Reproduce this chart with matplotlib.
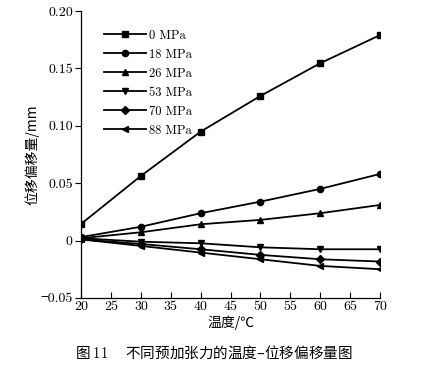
import matplotlib
matplotlib.use('Agg')
import matplotlib.pyplot as plt

plt.rcParams['font.family'] = ['cmr10', 'Noto Sans CJK SC', 'DejaVu Sans']
plt.rcParams['axes.formatter.use_mathtext'] = True
plt.rcParams['axes.unicode_minus'] = False
plt.rcParams['mathtext.fontset'] = 'cm'

# temperatures (C)
temps = [20, 30, 40, 50, 60, 70]

# displacement offset (mm) per pre-tension
labels = ['0 MPa', '18 MPa', '26 MPa', '53 MPa', '70 MPa', '88 MPa']
s0 = [0.0145, 0.0563, 0.0949, 0.126, 0.1545, 0.179]
s18 = [0.003, 0.012, 0.0238, 0.0339, 0.045, 0.058]
s26 = [0.002, 0.0072, 0.0142, 0.018, 0.0238, 0.031]
s53 = [0.002, -0.001, -0.0024, -0.0059, -0.0076, -0.0076]
s70 = [0.001, -0.003, -0.0076, -0.0125, -0.0163, -0.0183]
s88 = [0.001, -0.0047, -0.0105, -0.0163, -0.0221, -0.025]
series = [s0, s18, s26, s53, s70, s88]
markers = ['s', 'o', '^', 'v', 'D', '<']

yticks = [-0.05, 0, 0.05, 0.10, 0.15, 0.20]
ytick_labels = ['\u22120.05', '0', '0.05', '0.10', '0.15', '0.20']
xticks = list(range(20, 75, 5))

fig = plt.figure(figsize=(4.27, 3.66), dpi=100)
ax = fig.add_axes([0.19, 0.186, 0.70, 0.784])

for ys, m, lab in zip(series, markers, labels):
    ax.plot(temps, ys, color='black', linewidth=1.3, marker=m,
            markersize=4.5 if m != 'D' else 3.8, label=lab)

ax.set_xlim(20, 70)
ax.set_ylim(-0.05, 0.20)
ax.set_xticks(xticks)
ax.set_xticklabels([str(t) for t in xticks])
ax.set_yticks(yticks)
ax.set_yticklabels(ytick_labels)

ax.spines['top'].set_visible(False)
ax.spines['right'].set_visible(False)
ax.spines['left'].set_linewidth(0.9)
ax.spines['bottom'].set_linewidth(0.9)
ax.tick_params(axis='x', direction='in', length=4, labelsize=10, pad=2)
ax.tick_params(axis='y', direction='out', length=4, labelsize=10, pad=2)

ax.set_xlabel('温度/℃', fontsize=10, family=['Noto Sans CJK SC', 'DejaVu Sans'], labelpad=2)
ax.set_ylabel('位移偏移量/mm', fontsize=10, family=['Noto Sans CJK SC', 'cmr10'])
ax.yaxis.set_label_coords(-0.14, 0.5)

leg = ax.legend(loc='upper left', bbox_to_anchor=(0.04, 0.975), frameon=False,
                fontsize=9, handlelength=3.3, handletextpad=0.3, labelspacing=0.55)

fig.text(0.5, 0.038, '图 $\\mathbf{11}$　 不同预加张力的温度–位移偏移量图', ha='center', va='center',
         fontsize=10.5, family=['Noto Sans CJK SC', 'DejaVu Sans'])

fig.savefig('out.png', dpi=100)
